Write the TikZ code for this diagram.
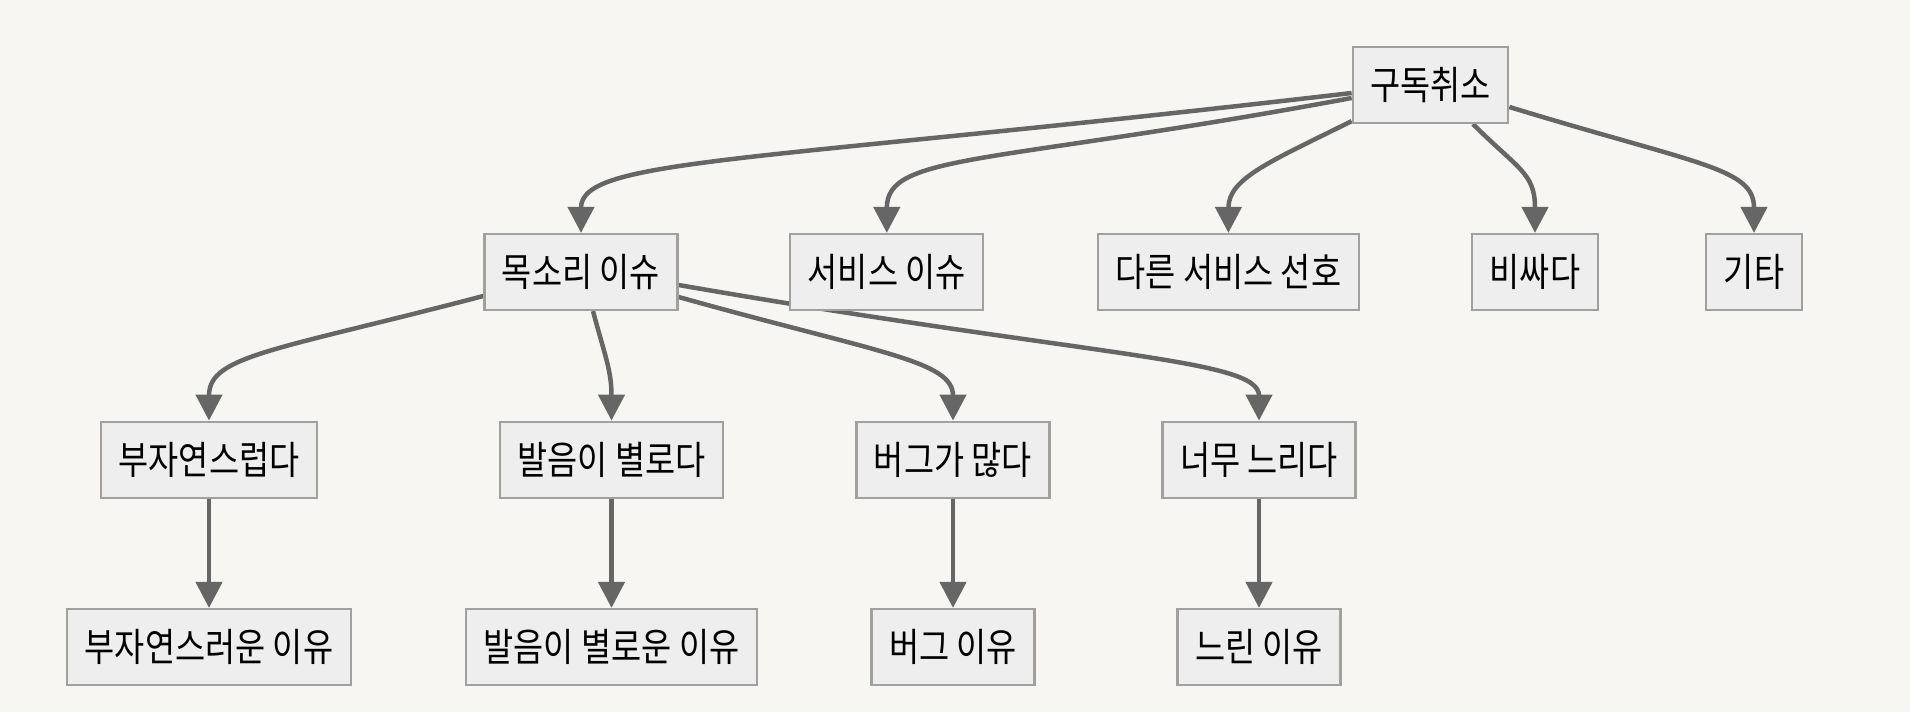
\documentclass[tikz,border=0pt]{standalone}
\usepackage{fontspec}
\usetikzlibrary{arrows.meta}
\newfontfamily\kr[FakeStretch=0.84]{Noto Sans CJK KR}
\definecolor{bgc}{HTML}{F7F6F3}
\definecolor{boxfill}{HTML}{EEEEEE}
\definecolor{boxline}{HTML}{A0A0A0}
\definecolor{edgec}{HTML}{666666}
\pgfdeclarelayer{bg}
\pgfdeclarelayer{edges}
\pgfsetlayers{bg,edges,main}
\tikzset{
  nodebox/.style={draw=boxline, fill=boxfill, line width=2.2pt, inner xsep=17.5pt, inner ysep=0pt,
    minimum height=76pt, font=\kr\fontsize{39}{46}\selectfont, text=black},
  link/.style={draw=edgec, line width=4.5pt, -{Triangle[length=26pt,width=26pt]}}
}
\begin{document}
\begin{tikzpicture}[x=1pt,y=1pt]
\begin{pgfonlayer}{bg}
\fill[bgc] (0,0) rectangle (1910,-712);
\end{pgfonlayer}
\useasboundingbox (0,0) rectangle (1910,-712);

\node[nodebox] (g) at (1430.5,-85) {구독취소};
\node[nodebox] (m) at (581,-272) {목소리 이슈};
\node[nodebox] (s) at (886.8,-272) {서비스 이슈};
\node[nodebox] (d) at (1228.4,-272) {다른 서비스 선호};
\node[nodebox] (b) at (1535,-272) {비싸다};
\node[nodebox] (k) at (1754,-272) {기타};
\node[nodebox] (r1) at (209,-459.7) {부자연스럽다};
\node[nodebox] (r2) at (611.5,-459.7) {발음이 별로다};
\node[nodebox] (r3) at (953,-459.7) {버그가 많다};
\node[nodebox] (r4) at (1259,-459.7) {너무 느리다};
\node[nodebox] (q1) at (209,-647) {부자연스러운 이유};
\node[nodebox] (q2) at (611.5,-647) {발음이 별로운 이유};
\node[nodebox] (q3) at (953,-647) {버그 이유};
\node[nodebox] (q4) at (1259,-647) {느린 이유};

\begin{pgfonlayer}{edges}
\draw[link] ([yshift=-8pt]g.west) .. controls +(-600,-70) and +(0,75) .. (m.north);
\draw[link] ([yshift=-13pt]g.west) .. controls +(-360,-67) and +(0,80) .. (s.north);
\draw[link] ([yshift=3pt]g.south west) .. controls +(-80,-40) and +(0,55) .. (d.north);
\draw[link] ([xshift=42.5pt]g.south) .. controls +(45,-45) and +(0,60) .. (b.north);
\draw[link] ([yshift=-22pt]g.east) .. controls +(190,-58) and +(0,65) .. (k.north);
\draw[link] ([yshift=-24pt]m.west) .. controls +(-210,-55) and +(0,65) .. (r1.north);
\draw[link] ([xshift=12pt]m.south) .. controls +(12,-45) and +(0,50) .. (r2.north);
\draw[link] ([yshift=-25pt]m.east) .. controls +(200,-56) and +(0,60) .. (r3.north);
\draw[link] ([yshift=-13pt]m.east) .. controls +(420,-73) and +(0,62) .. (r4.north);
\draw[link] (r1) -- (q1);
\draw[link] (r2) -- (q2);
\draw[link] (r3) -- (q3);
\draw[link] (r4) -- (q4);
\end{pgfonlayer}
\end{tikzpicture}
\end{document}
